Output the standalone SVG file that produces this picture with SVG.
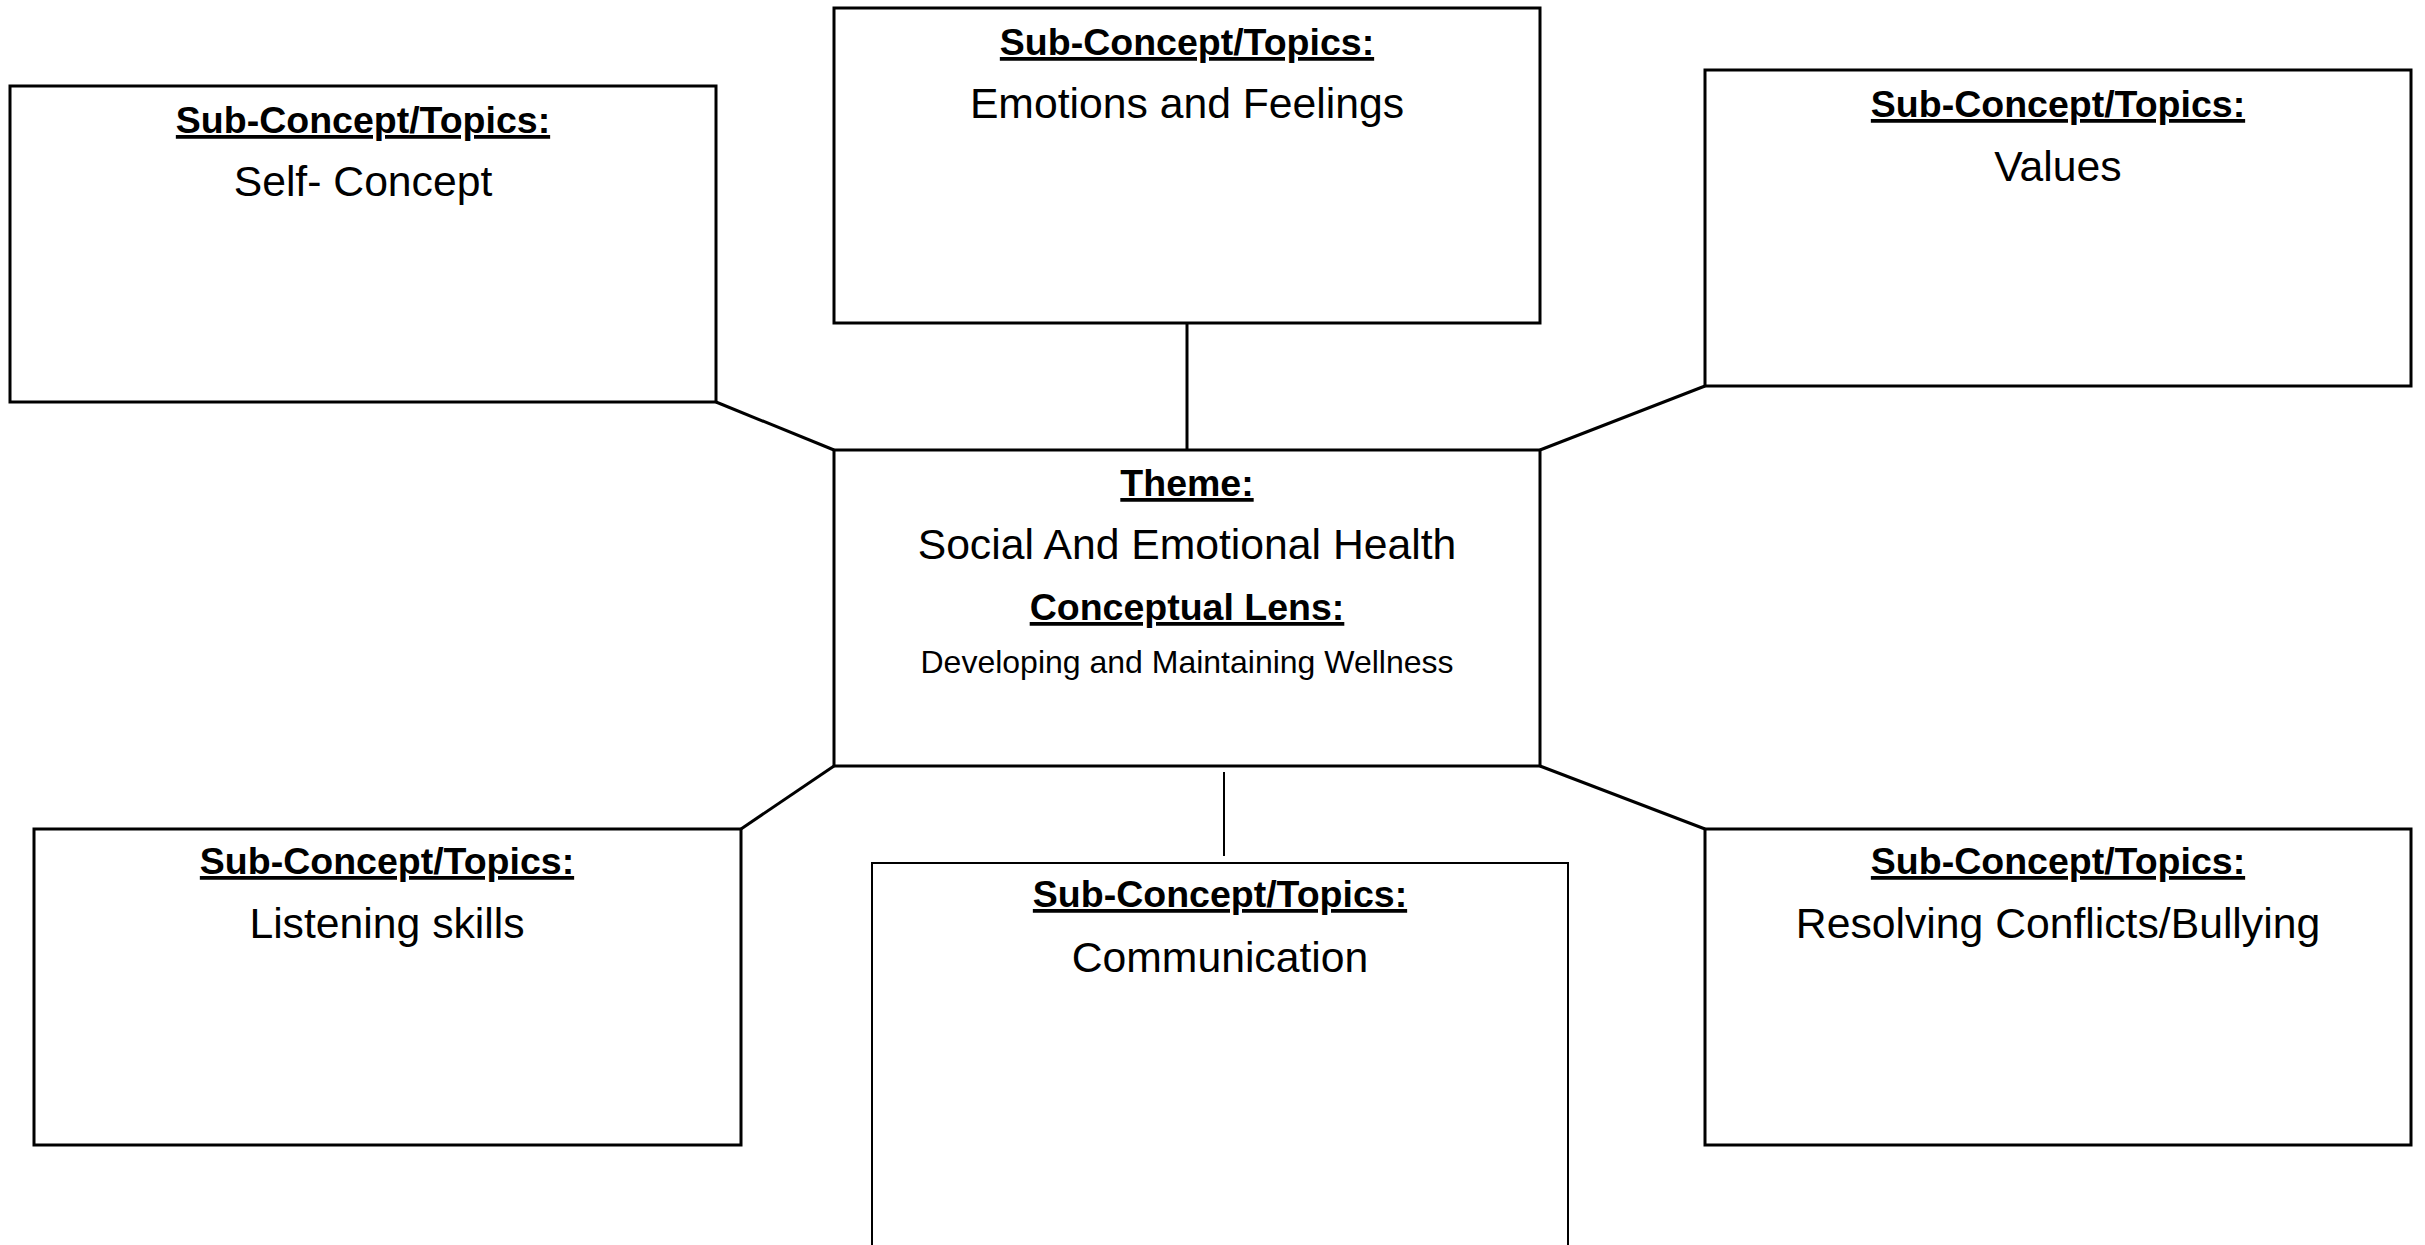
<svg xmlns="http://www.w3.org/2000/svg" width="2425" height="1245" viewBox="0 0 2425 1245">
<style>
  .box { fill: #ffffff; stroke: #000000; stroke-width: 3; }
  .thin { fill: #ffffff; stroke: #000000; stroke-width: 2; }
  .conn { stroke: #000000; stroke-width: 3; fill: none; }
  .conn-thin { stroke: #000000; stroke-width: 2; fill: none; }
  text { font-family: "Liberation Sans", Arial, sans-serif; fill: #000000; text-anchor: middle; }
  .head { font-size: 37.5px; font-weight: bold; text-decoration: underline; }
  .body { font-size: 42.7px; }
  .small { font-size: 32px; }
</style>
<rect x="0" y="0" width="2425" height="1245" fill="#ffffff"/>
<g id="connectors">
  <line class="conn" x1="716" y1="402" x2="834" y2="450"/>
  <line class="conn" x1="1187" y1="323" x2="1187" y2="450"/>
  <line class="conn" x1="1540" y1="450" x2="1705" y2="386"/>
  <line class="conn" x1="741" y1="829" x2="834" y2="766"/>
  <line class="conn-thin" x1="1224" y1="772" x2="1224" y2="856"/>
  <line class="conn" x1="1540" y1="766" x2="1705" y2="829"/>
</g>
<g id="self-concept">
  <rect class="box" x="10" y="86" width="706" height="316"/>
  <text class="head" x="363" y="133">Sub-Concept/Topics:</text>
  <text class="body" x="363" y="196">Self- Concept</text>
</g>
<g id="emotions">
  <rect class="box" x="834" y="8" width="706" height="315"/>
  <text class="head" x="1187" y="55">Sub-Concept/Topics:</text>
  <text class="body" x="1187" y="118">Emotions and Feelings</text>
</g>
<g id="values">
  <rect class="box" x="1705" y="70" width="706" height="316"/>
  <text class="head" x="2058" y="117">Sub-Concept/Topics:</text>
  <text class="body" x="2058" y="181">Values</text>
</g>
<g id="theme">
  <rect class="box" x="834" y="450" width="706" height="316"/>
  <text class="head" x="1187" y="496">Theme:</text>
  <text class="body" x="1187" y="559">Social And Emotional Health</text>
  <text class="head" x="1187" y="620">Conceptual Lens:</text>
  <text class="small" x="1187" y="673">Developing and Maintaining Wellness</text>
</g>
<g id="listening">
  <rect class="box" x="34" y="829" width="707" height="316"/>
  <text class="head" x="387" y="874">Sub-Concept/Topics:</text>
  <text class="body" x="387" y="938">Listening skills</text>
</g>
<g id="communication">
  <rect class="thin" x="872" y="863" width="696" height="420"/>
  <text class="head" x="1220" y="907">Sub-Concept/Topics:</text>
  <text class="body" x="1220" y="972">Communication</text>
</g>
<g id="resolving">
  <rect class="box" x="1705" y="829" width="706" height="316"/>
  <text class="head" x="2058" y="874">Sub-Concept/Topics:</text>
  <text class="body" x="2058" y="938">Resolving Conflicts/Bullying</text>
</g>
</svg>
